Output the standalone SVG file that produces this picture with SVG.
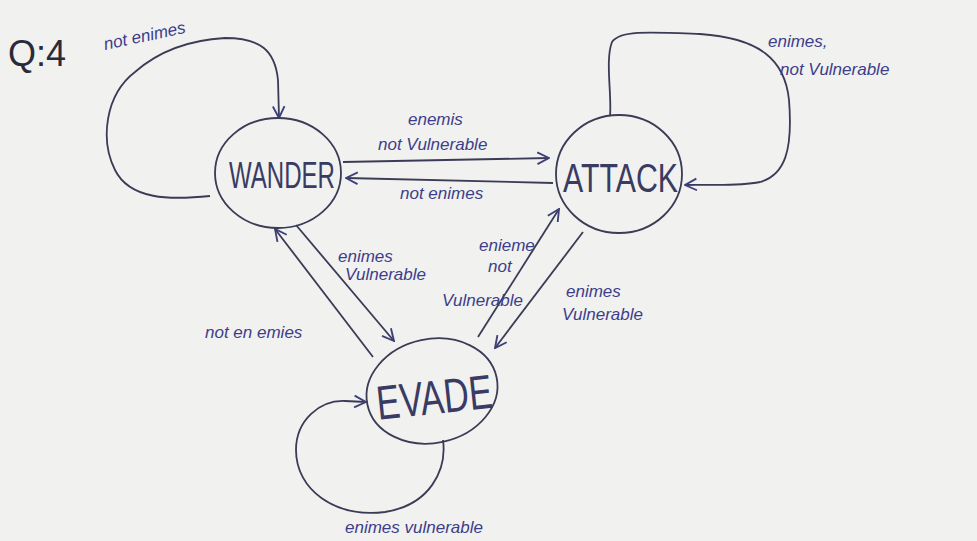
<svg xmlns="http://www.w3.org/2000/svg" width="977" height="541" viewBox="0 0 977 541">
<defs>
<marker id="arr" viewBox="0 0 12 12" refX="11" refY="6" markerWidth="14" markerHeight="14" markerUnits="userSpaceOnUse" orient="auto">
<path d="M1,1 L11,6 L1,11" fill="none" stroke="#3d3f7a" stroke-width="1.6"/>
</marker>
</defs>
<style>
.bg{fill:#f1f1f0}
.node{fill:none;stroke:#3a3b55;stroke-width:1.8}
.edge{fill:none;stroke:#3a3b55;stroke-width:1.8}
.nt{font-family:"Liberation Sans",Arial,sans-serif;fill:#3a3b62;font-weight:300}
.lb{font-family:"Liberation Sans",Arial,sans-serif;font-style:italic;fill:#3d3d8a;font-size:17px}
</style>
<rect class="bg" x="0" y="0" width="977" height="541"/>
<text x="8" y="66" font-family="Liberation Sans, Arial, sans-serif" font-size="36" fill="#2a2a3a">Q:4</text>
<g id="connectors">
<path id="loop-wander" class="edge" marker-end="url(#arr)" d="M210,196 C170,200 130,200 115,170 C100,140 105,95 135,72 C160,50 190,40 225,38 C260,38 275,50 278,80 L279,118"/>
<path id="loop-attack" class="edge" marker-end="url(#arr)" d="M610,116 C612,95 605,60 612,42 C620,30 650,32 700,34 C760,38 785,60 789,100 C793,150 785,175 760,182 C735,187 705,184 685,185"/>
<path id="loop-evade" class="edge" marker-end="url(#arr)" d="M443,440 C447,470 430,505 385,512 C335,518 296,490 296,450 C296,420 320,400 345,401 L366,402"/>
<path id="w2a" class="edge" marker-end="url(#arr)" d="M343,162 L549,158"/>
<path id="a2w" class="edge" marker-end="url(#arr)" d="M553,183 L346,178"/>
<path id="w2e" class="edge" marker-end="url(#arr)" d="M296,225 L394,341"/>
<path id="e2w" class="edge" marker-end="url(#arr)" d="M373,357 L275,229"/>
<path id="e2a" class="edge" marker-end="url(#arr)" d="M478,337 L559,209"/>
<path id="a2e" class="edge" marker-end="url(#arr)" d="M583,232 L495,348"/>
</g>
<g id="labels">
<text class="lb" x="105" y="50" transform="rotate(-12 105 50)">not enimes</text>
<text class="lb" x="408" y="125" font-size="15">enemis</text>
<text class="lb" x="378" y="150">not Vulnerable</text>
<text class="lb" x="400" y="199">not enimes</text>
<text class="lb" x="768" y="47">enimes,</text>
<text class="lb" x="780" y="75" font-size="19">not Vulnerable</text>
<text class="lb" x="338" y="262" font-size="15">enimes</text>
<text class="lb" x="345" y="280" font-size="15">Vulnerable</text>
<text class="lb" x="205" y="338">not en emies</text>
<text class="lb" x="479" y="251" font-size="13">enieme</text>
<text class="lb" x="488" y="272" font-size="13">not</text>
<text class="lb" x="442" y="306">Vulnerable</text>
<text class="lb" x="566" y="297">enimes</text>
<text class="lb" x="562" y="320">Vulnerable</text>
<text class="lb" x="345" y="533">enimes vulnerable</text>
</g>
<g id="node-wander">
<ellipse class="node" cx="278" cy="173" rx="63" ry="55"/>
<text class="nt" x="229" y="188" font-size="36" textLength="106" lengthAdjust="spacingAndGlyphs">WANDER</text>
</g>
<g id="node-attack">
<ellipse class="node" cx="619" cy="174" rx="63" ry="59"/>
<text class="nt" x="563" y="192" font-size="40" textLength="115" lengthAdjust="spacingAndGlyphs">ATTACK</text>
</g>
<g id="node-evade">
<ellipse class="node" cx="432" cy="391" rx="66" ry="52" transform="rotate(-12 432 391)"/>
<text class="nt" x="376" y="414" font-size="48" textLength="116" lengthAdjust="spacingAndGlyphs" transform="rotate(-6 432 395)">EVADE</text>
</g>
</svg>
